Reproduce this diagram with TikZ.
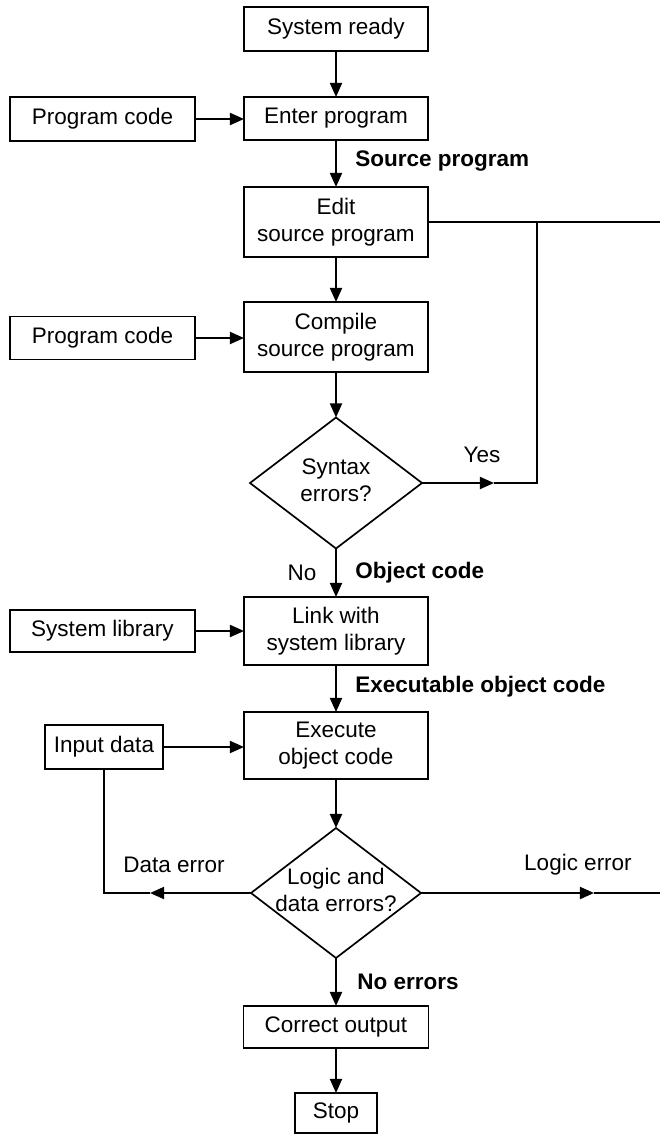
\documentclass[tikz,border=0pt]{standalone}
\usepackage{fontspec}
\setmainfont{Liberation Sans}
\usetikzlibrary{shapes.geometric,arrows.meta}
\begin{document}
\begin{tikzpicture}[x=0.025cm,y=-0.025cm,
  every node/.style={font=\fontsize{16}{19}\selectfont},
  wh/.style 2 args={minimum width=#1*0.025cm, minimum height=#2*0.025cm},
  procbox/.style={draw, line width=1.2pt, align=center, inner sep=0pt, outer sep=0pt},
  decision/.style={draw, diamond, line width=1.2pt, inner sep=0pt, outer sep=0pt},
  flow/.style={line width=1.5pt, -{Triangle[length=10pt,width=8.5pt]}},
  conn/.style={line width=1.5pt},
  lbl/.style={font=\fontsize{16}{19}\selectfont\bfseries, inner sep=0pt},
  plain/.style={inner sep=0pt}]

\useasboundingbox (0,0) rectangle (660,1136);

% main column
\node[procbox, wh={184}{44}] (ready)   at (336,29)   {System ready};
\node[procbox, wh={184}{43}] (enter)   at (336,118.5){Enter program};
\node[procbox, wh={184}{70}] (edit)    at (336,222)  {Edit\\source program};
\node[procbox, wh={184}{70}] (compile) at (336,337)  {Compile\\source program};
\node[decision, wh={172}{131}] (syntax) at (336,483)
  {\smash{\raisebox{-4pt}{\begin{tabular}{@{}c@{}}Syntax\\errors?\end{tabular}}}};
\node[procbox, wh={184}{68}] (link)    at (336,631)  {Link with\\system library};
\node[procbox, wh={184}{67}] (exec)    at (336,745.5){Execute\\object code};
\node[decision, wh={170}{130}] (logic) at (336,893)
  {\smash{\raisebox{-4pt}{\begin{tabular}{@{}c@{}}Logic and\\data errors?\end{tabular}}}};
\node[procbox, wh={185}{42}] (correct) at (336,1027) {Correct output};
\node[procbox, wh={82}{40}]  (stop)    at (336,1113) {Stop};

% inputs on the left
\node[procbox, wh={185}{44}] (code1) at (102.5,119) {Program code};
\node[procbox, wh={185}{43}] (code2) at (102.5,338) {Program code};
\node[procbox, wh={185}{42}] (lib)   at (102.5,631) {System library};
\node[procbox, wh={118}{44}] (data)  at (104,747)   {Input data};

% loop-back points
\coordinate (yesTip)   at (494,483);
\coordinate (junction) at (537,222);
\coordinate (rightTop) at (660,222);
\coordinate (dataTip)  at (150,893);
\coordinate (dataCorner) at (104,893);
\coordinate (logicTip) at (594,893);
\coordinate (rightLow) at (660,893);

% main flow
\draw[flow] (ready.south)   -- (enter.north);
\draw[flow] (enter.south)   -- (edit.north);
\draw[flow] (edit.south)    -- (compile.north);
\draw[flow] (compile.south) -- (syntax.north);
\draw[flow] (syntax.south)  -- (link.north);
\draw[flow] (link.south)    -- (exec.north);
\draw[flow] (exec.south)    -- (logic.north);
\draw[flow] (logic.south)   -- (correct.north);
\draw[flow] (correct.south) -- (stop.north);

% side inputs
\draw[flow] (code1.east) -- (code1.east -| enter.west);
\draw[flow] (code2.east) -- (code2.east -| compile.west);
\draw[flow] (lib.east)   -- (lib.east -| link.west);
\draw[flow] (data.east)  -- (data.east -| exec.west);

% syntax error loop
\draw[conn] (edit.east) -- (rightTop);
\draw[flow] (syntax.east) -- (yesTip);
\draw[conn] (yesTip) -- (junction |- yesTip) -- (junction);

% data and logic errors
\draw[flow] (logic.west) -- (dataTip);
\draw[conn] (dataTip) -- (dataCorner) -- (data.south);
\draw[flow] (logic.east) -- (logicTip);
\draw[conn] (logicTip) -- (rightLow);

% labels
\node[lbl, anchor=west]   (lsrc)  at (355,161) {Source program};
\node[plain]              (lyes)  at (482,455) {Yes};
\node[plain]              (lno)   at (302,573) {No};
\node[lbl, anchor=west]   (lobj)  at (355,573) {Object code};
\node[lbl, anchor=west]   (lexe)  at (355,687) {Executable object code};
\node[plain]              (ldata) at (174,865) {Data error};
\node[plain]              (llog)  at (578,865) {Logic error};
\node[lbl, anchor=west]   (lnoe)  at (357,982) {No errors};
\end{tikzpicture}
\end{document}
